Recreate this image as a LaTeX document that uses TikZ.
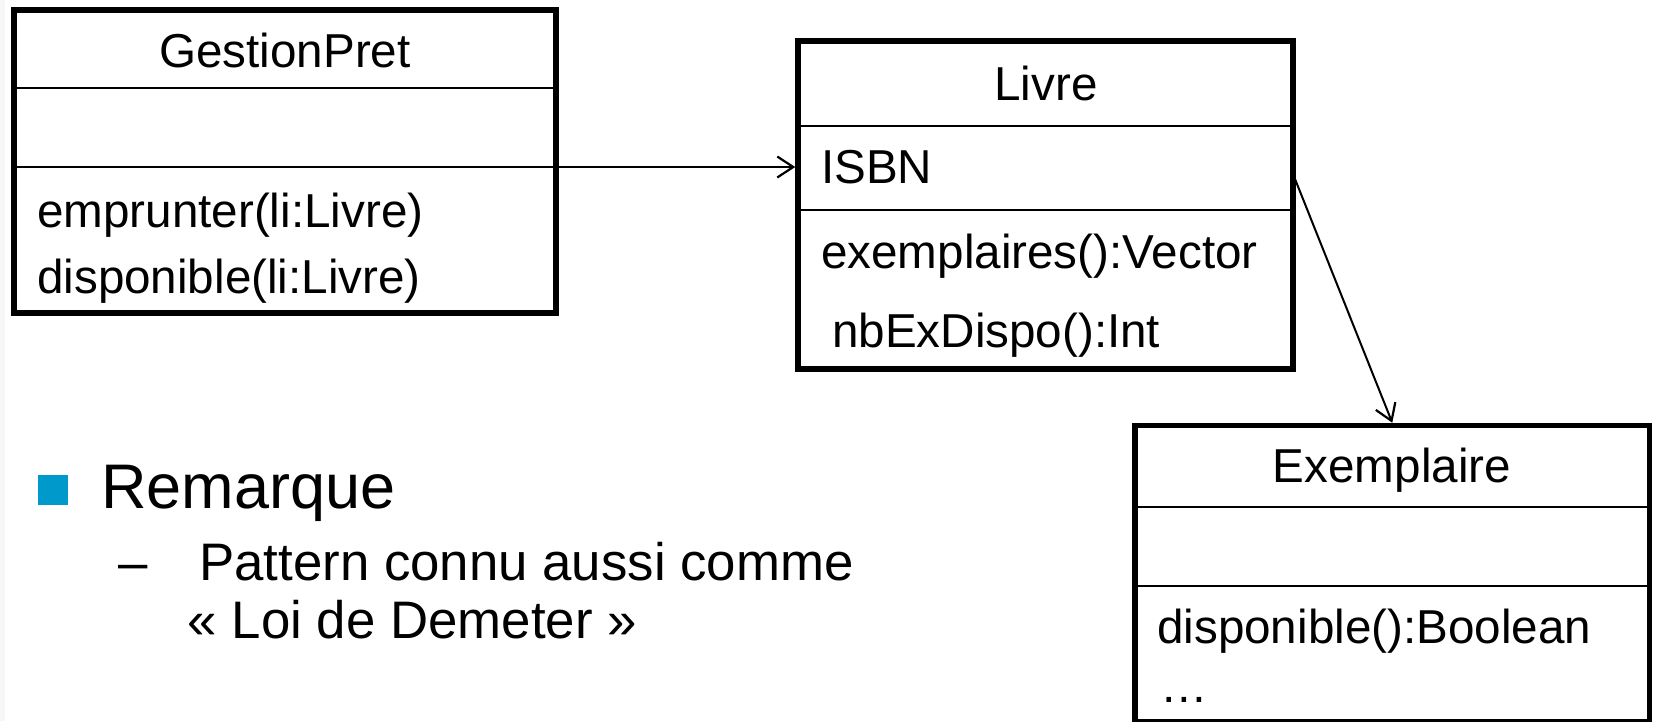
\documentclass[tikz,border=0pt]{standalone}
\usepackage{fontspec}
\setmainfont{Liberation Sans}
\usetikzlibrary{arrows.meta}
\definecolor{bulletblue}{HTML}{0099CC}
\begin{document}
\begin{tikzpicture}[x=1pt,y=-1pt,
  classbox/.style={draw, line width=5.5pt, inner sep=0pt, fill=white},
  divider/.style={line width=2.6pt},
  member/.style={anchor=base west, inner sep=0pt, font=\fontsize{47.6}{56}\selectfont},
  classname/.style={anchor=base, inner sep=0pt, font=\fontsize{47.6}{56}\selectfont},
  assoc/.style={line width=2pt, -{Straight Barb[length=16pt,width=21pt,line width=2.2pt]}},
  bigtext/.style={anchor=base west, inner sep=0pt, font=\fontsize{63}{74}\selectfont},
  subtext/.style={anchor=base west, inner sep=0pt, font=\fontsize{52.8}{62}\selectfont},
]
\useasboundingbox (0,0) rectangle (1653,721);
\fill[gray!6] (0,0) rectangle (5,721);

% class GestionPret
\node[classbox, minimum width=542pt, minimum height=303pt] (gp) at (285,161.5) {};
\draw[divider] (14,88) -- (556,88);
\draw[divider] (14,167) -- (556,167);
\node[classname] (gpname) at (285,67) {GestionPret};
\node[member] (gpop1) at (37,227) {emprunter(li:Livre)};
\node[member] (gpop2) at (37,293) {disponible(li:Livre)};

% class Livre
\node[classbox, minimum width=495pt, minimum height=328pt] (lv) at (1045.5,205) {};
\draw[divider] (798,126) -- (1293,126);
\draw[divider] (798,210) -- (1293,210);
\node[classname] (lvname) at (1046,100) {Livre};
\node[member] (lvattr) at (821,183) {ISBN};
\node[member] (lvop1) at (821,268) {exemplaires():Vector};
\node[member] (lvop2) at (832,347) {nbExDispo():Int};

% class Exemplaire (runs past the lower edge)
\node[classbox, minimum width=514.5pt, minimum height=296pt] (ex) at (1392.25,573.5) {};
\draw[divider] (1135,507) -- (1649.5,507);
\draw[divider] (1135,586) -- (1649.5,586);
\node[classname] (exname) at (1392,482) {Exemplaire};
\node[member] (exop1) at (1157,643) {disponible():Boolean};
\node[member] (exop2) at (1160,702) {…};

% associations
\coordinate (gpout) at (556,167);
\draw[assoc] (gpout) -- (gpout -| lv.west);
\coordinate (lvout) at (1293,174);
\draw[assoc] (lvout) -- (ex.north);

% remark
\fill[bulletblue] (38,475) rectangle (68,505);
\node[bigtext] (rem) at (101,508) {Remarque};
\node[subtext] (dash) at (118,580) {–};
\node[subtext] (line1) at (199,580) {Pattern connu aussi comme};
\node[subtext] (line2) at (187.5,638) {« Loi de Demeter »};
\end{tikzpicture}
\end{document}
